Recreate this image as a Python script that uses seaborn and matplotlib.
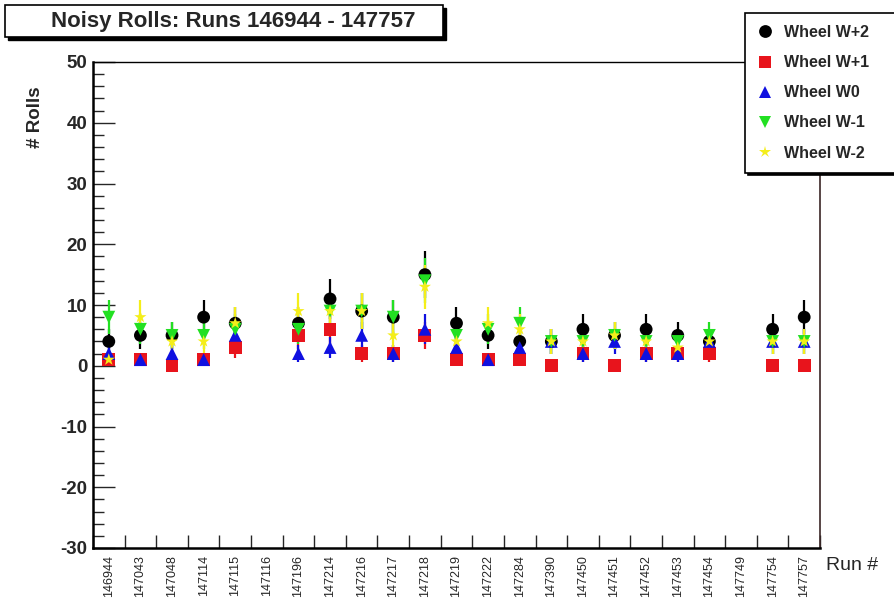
import numpy as np
import pandas as pd
import matplotlib
matplotlib.use("Agg")
import matplotlib.pyplot as plt
from matplotlib.patches import Rectangle
from matplotlib.ticker import MultipleLocator
import seaborn as sns

nan = np.nan

# Run numbers (x categories)
runs = ['146944', '147043', '147048', '147114', '147115', '147116', '147196',
        '147214', '147216', '147217', '147218', '147219', '147222', '147284',
        '147390', '147450', '147451', '147452', '147453', '147454', '147749',
        '147754', '147757']

# Noisy rolls per wheel
wheel_p2 = [4, 5, 5, 8, 7, nan, 7, 11, 9, 8, 15, 7, 5, 4, 4, 6, 5, 6, 5, 4, nan, 6, 8]
wheel_p1 = [1, 1, 0, 1, 3, nan, 5, 6, 2, 2, 5, 1, 1, 1, 0, 2, 0, 2, 2, 2, nan, 0, 0]
wheel_0 = [2, 1, 2, 1, 5, nan, 2, 3, 5, 2, 6, 3, 1, 3, 4, 2, 4, 2, 2, 4, nan, 4, 4]
wheel_m1 = [8, 6, 5, 5, 6, nan, 6, 9, 9, 8, 14, 5, 6, 7, 4, 4, 5, 4, 4, 5, nan, 4, 4]
wheel_m2 = [1, 8, 4, 4, 7, nan, 9, 9, 9, 5, 13, 4, 7, 6, 4, 4, 5, 4, 3, 4, nan, 4, 4]

wheel_names = ['Wheel W+2', 'Wheel W+1', 'Wheel W0', 'Wheel W-1', 'Wheel W-2']
wheel_values = [wheel_p2, wheel_p1, wheel_0, wheel_m1, wheel_m2]
colors = {'Wheel W+2': '#000000', 'Wheel W+1': '#e8141c', 'Wheel W0': '#1010e0',
          'Wheel W-1': '#22e022', 'Wheel W-2': '#f4ee1a'}
markers = {'Wheel W+2': 'o', 'Wheel W+1': 's', 'Wheel W0': '^',
           'Wheel W-1': 'v', 'Wheel W-2': '*'}

# long table for seaborn
rows = []
for name, vals in zip(wheel_names, wheel_values):
    for i, (run, v) in enumerate(zip(runs, vals)):
        rows.append({'pos': i, 'run': run, 'wheel': name, 'rolls': v})
df = pd.DataFrame(rows)

sns.set_style("white")
plt.rcParams['font.family'] = ['Liberation Sans', 'DejaVu Sans']
plt.rcParams['axes.unicode_minus'] = False

fig = plt.figure(figsize=(8.94, 6.03), dpi=100)
ax = fig.add_axes([93 / 894, 1 - 548 / 603, 727 / 894, 486 / 603])

# Poisson error bars
for name in wheel_names:
    sub = df[df['wheel'] == name]
    ax.errorbar(sub['pos'], sub['rolls'], yerr=np.sqrt(sub['rolls']), fmt='none',
                ecolor=colors[name], elinewidth=1.6, capsize=0, zorder=2)

sns.scatterplot(data=df, x='pos', y='rolls', hue='wheel', style='wheel',
                hue_order=wheel_names, style_order=wheel_names,
                palette=colors, markers=markers, s=85, linewidth=0,
                ax=ax, zorder=3)

ax.set_xlim(-0.5, len(runs) - 0.5)
ax.set_ylim(-30, 50)
ax.set_xticks(range(len(runs)))
ax.set_xticklabels(runs, rotation=90, fontsize=9)
ax.set_xticks(np.arange(len(runs) + 1) - 0.5, minor=True)
ax.tick_params(axis='x', which='major', length=0, pad=5)
ax.tick_params(axis='x', which='minor', direction='in', length=9.5, width=1,
               bottom=True)
ax.yaxis.set_major_locator(MultipleLocator(10))
ax.yaxis.set_minor_locator(MultipleLocator(2))
ax.tick_params(axis='y', which='major', direction='in', length=16, width=1,
               labelsize=13.5, pad=4, left=True)
ax.tick_params(axis='y', which='minor', direction='in', length=8, width=1,
               left=True)
for lab in ax.get_yticklabels():
    lab.set_fontweight('bold')
ax.set_xlabel('')
ax.set_ylabel('')

for side in ['left', 'bottom']:
    ax.spines[side].set_color('black')
    ax.spines[side].set_linewidth(1.8)
ax.spines['top'].set_color('black')
ax.spines['top'].set_linewidth(1.0)
ax.spines['right'].set_color('#3b2626')
ax.spines['right'].set_linewidth(1.2)

# legend
sns.move_legend(ax, 'upper left', bbox_to_anchor=(745 / 894, 1 - 170 / 603, 170 / 894, 157 / 603),
                bbox_transform=fig.transFigure, mode='expand', title=None,
                prop={'weight': 'bold', 'size': 11.5}, frameon=True,
                fancybox=False, framealpha=1, edgecolor='black',
                borderpad=0.75, labelspacing=0.95, handlelength=1.0,
                handletextpad=0.7, borderaxespad=0,
                shadow={'color': 'black', 'alpha': 1})
leg = ax.get_legend()
leg.get_frame().set_linewidth(1.2)

# labels
fig.text(35 / 894, 1 - 86 / 603, '# Rolls', rotation=90, ha='center', va='top',
         fontsize=13.5, fontweight='bold')
fig.text(826 / 894, 1 - 565 / 603, 'Run #', ha='left', va='center', fontsize=14)

# title box with shadow
fig.add_artist(Rectangle((8 / 894, 1 - 40 / 603), 438 / 894, 32 / 603,
                         transform=fig.transFigure, facecolor='black',
                         edgecolor='black', zorder=5))
fig.add_artist(Rectangle((5 / 894, 1 - 37 / 603), 438 / 894, 32 / 603,
                         transform=fig.transFigure, facecolor='white',
                         edgecolor='black', linewidth=1.2, zorder=6))
fig.text(233 / 894, 1 - 21 / 603, 'Noisy Rolls: Runs 146944 - 147757',
         ha='center', va='center', fontsize=16, fontweight='bold', zorder=7)

fig.savefig('out.png', dpi=100)
